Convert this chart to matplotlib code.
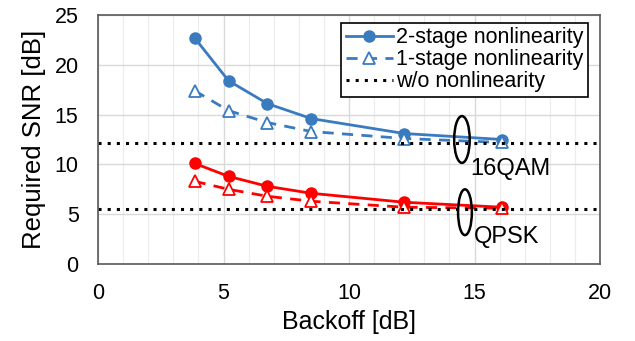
import numpy as np
import matplotlib.pyplot as plt
from matplotlib.patches import Ellipse

plt.rcParams['font.family'] = ['Liberation Sans', 'DejaVu Sans']

# --- Data ---
backoff = [3.85, 5.2, 6.75, 8.5, 12.2, 16.1]
qam16_2stage = [22.7, 18.4, 16.1, 14.6, 13.1, 12.5]
qam16_1stage = [17.4, 15.4, 14.2, 13.3, 12.6, 12.2]
qpsk_2stage = [10.1, 8.8, 7.8, 7.1, 6.2, 5.7]
qpsk_1stage = [8.3, 7.5, 6.8, 6.3, 5.7, 5.6]
qam16_ref = 12.1
qpsk_ref = 5.5

blue = '#3a7bbf'
red = '#ff0000'

fig = plt.figure(figsize=(6.35, 3.41), dpi=100)
ax = fig.add_axes([98 / 635, 1 - 264 / 341, 502 / 635, 249 / 341])

ax.plot(backoff, qam16_2stage, '-o', color=blue, lw=2, ms=8, label='2-stage nonlinearity')
ax.plot(backoff, qam16_1stage, '--^', color=blue, lw=2, ms=8, mfc='white', mew=1.3,
        label='1-stage nonlinearity', dashes=(4, 3))
ax.axhline(qam16_ref, color='black', ls=(0, (1, 2)), lw=2.2, label='w/o nonlinearity')

ax.plot(backoff, qpsk_2stage, '-o', color=red, lw=2, ms=8)
ax.plot(backoff, qpsk_1stage, '--^', color=red, lw=2, ms=8, mfc='white', mew=1.3, dashes=(4, 3))
ax.axhline(qpsk_ref, color='black', ls=(0, (1, 2)), lw=2.2)

# group markers
ax.add_patch(Ellipse((14.5, 12.5), 0.62, 4.7, fill=False, lw=1.8, color='black', zorder=5))
ax.add_patch(Ellipse((14.62, 5.2), 0.55, 4.6, fill=False, lw=1.8, color='black', zorder=5))
ax.text(14.85, 8.9, '16QAM', fontsize=17)
ax.text(14.98, 2.1, 'QPSK', fontsize=17)

ax.set_xlim(0, 20)
ax.set_ylim(0, 25)
ax.set_xticks(np.arange(0, 21, 5))
ax.set_yticks(np.arange(0, 26, 5))
ax.set_xticks(np.arange(0, 21, 1), minor=True)
ax.grid(True, which='major', color='#d9d9d9', lw=1)
ax.grid(True, which='minor', axis='x', color='#ececec', lw=0.8)
ax.set_axisbelow(True)
ax.tick_params(which='both', length=0, labelsize=15.5, pad=14)
for s in ax.spines.values():
    s.set_color('#595959')
    s.set_linewidth(1.2)

ax.set_xlabel('Backoff [dB]', fontsize=18, labelpad=4)
ax.set_ylabel('Required SNR [dB]', fontsize=18.5, labelpad=6)

leg = ax.legend(loc='upper right', fontsize=15.5, frameon=True, fancybox=False,
                edgecolor='black', framealpha=1, borderpad=0.2, labelspacing=0.05,
                handlelength=2.2, handletextpad=0.15, borderaxespad=0,
                bbox_to_anchor=(0.976, 0.968))
leg.get_frame().set_linewidth(1.2)

fig.savefig('out.png', dpi=100)
